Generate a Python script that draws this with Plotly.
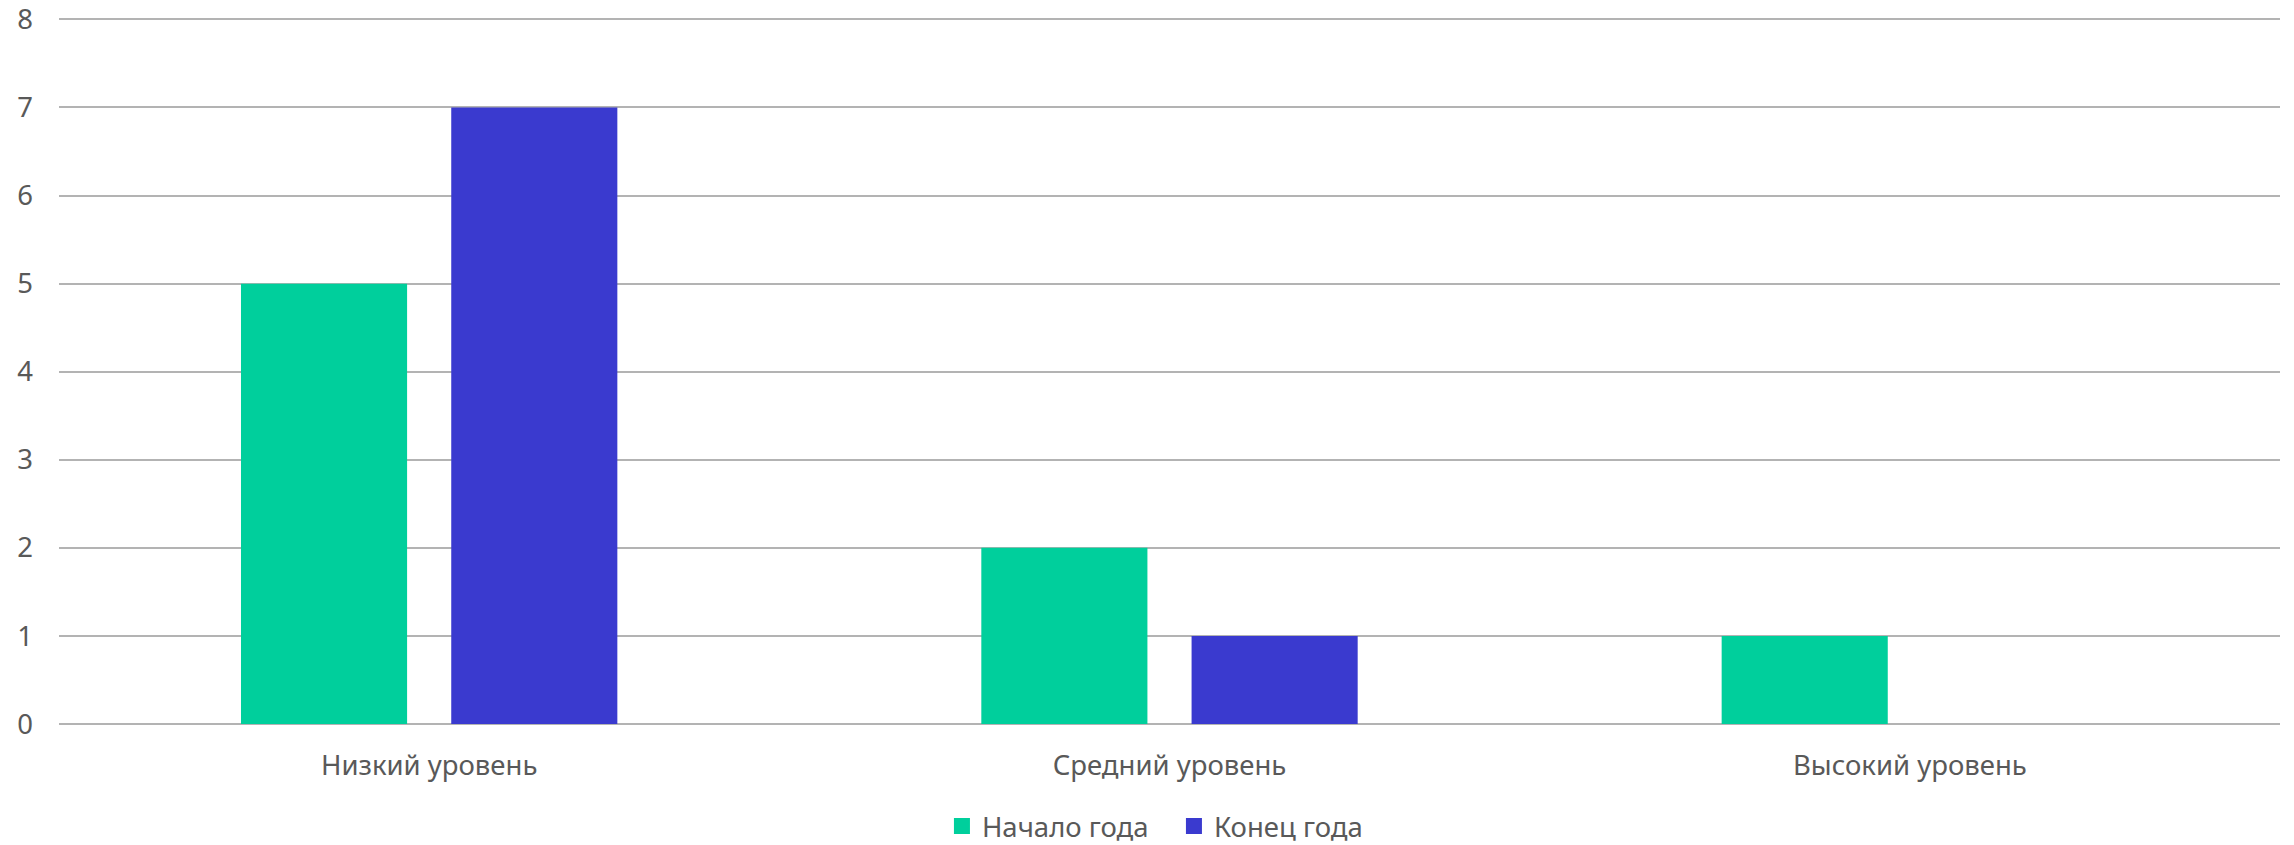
import plotly.graph_objects as go

categories = ["Низкий уровень", "Средний уровень", "Высокий уровень"]
start_values = [5, 2, 1]
end_values = [7, 1, 0]
series_names = ["Начало года", "Конец года"]
y_ticks = [0, 1, 2, 3, 4, 5, 6, 7, 8]

GREEN = "#00CF9C"
BLUE = "#3A3ACF"
TEXT = "#595959"
FONT = "Noto Sans"
FS = 27.5

fig = go.Figure()
fig.add_trace(go.Bar(name=series_names[0], x=categories, y=start_values,
                     marker=dict(color=GREEN, line=dict(width=0)), showlegend=False))
fig.add_trace(go.Bar(name=series_names[1], x=categories, y=end_values,
                     marker=dict(color=BLUE, line=dict(width=0)), showlegend=False))
# legend entries with larger square swatches
fig.add_trace(go.Scatter(name=series_names[0], x=[None], y=[None], mode="markers",
                         marker=dict(symbol="square", size=16, color=GREEN), hoverinfo="skip"))
fig.add_trace(go.Scatter(name=series_names[1], x=[None], y=[None], mode="markers",
                         marker=dict(symbol="square", size=16, color=BLUE), hoverinfo="skip"))

fig.update_layout(
    width=2294, height=845,
    margin=dict(l=59, r=14, t=15, b=121, autoexpand=False),
    paper_bgcolor="white", plot_bgcolor="white",
    barmode="group", bargap=0.432, bargroupgap=0.21,
    font=dict(family=FONT, size=FS, color=TEXT),
    showlegend=True,
    legend=dict(orientation="h", x=0.502, xanchor="center", y=-0.144, yanchor="middle",
                font=dict(family=FONT, size=FS, color=TEXT),
                traceorder="normal", itemwidth=30, entrywidth=187,
                entrywidthmode="pixels"),
)
fig.update_xaxes(showline=False, showgrid=False, zeroline=False,
                 ticks="", ticklabelstandoff=22,
                 tickfont=dict(family=FONT, size=FS, color=TEXT))
fig.update_yaxes(range=[0, 8.05], tickvals=y_ticks, showgrid=True,
                 gridcolor="#B3B3B3", gridwidth=2, zeroline=True,
                 zerolinecolor="#B3B3B3", zerolinewidth=2,
                 showline=False, ticks="", ticklabelstandoff=25,
                 ticklabeloverflow="allow",
                 tickfont=dict(family=FONT, size=FS, color=TEXT))

fig.write_html("out.html",
               config={"displayModeBar": False},
               post_script="document.body.style.margin='0';document.body.style.overflow='hidden';")
